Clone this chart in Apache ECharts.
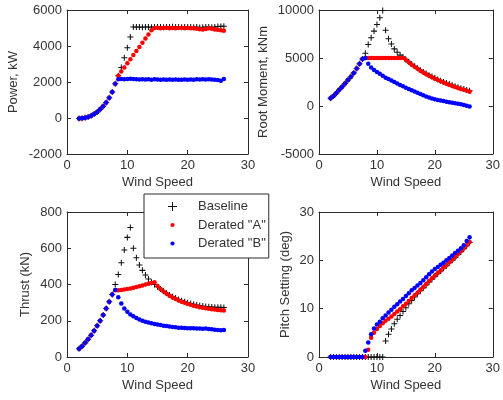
<!DOCTYPE html>
<html>
<head>
<meta charset="utf-8">
<script src="https://cdn.jsdelivr.net/npm/echarts@6/dist/echarts.min.js"></script>
<style>
  html, body { margin: 0; padding: 0; background: #fff; }
  #chart { width: 503px; height: 400px; }
</style>
</head>
<body>
<div id="chart"></div>
<script>
// Wind speed samples (m/s)
const windSpeed = [2,2.5,3,3.5,4,4.5,5,5.5,6,6.5,7,7.5,8,8.5,9,9.5,10,10.5,11,11.5,12,12.5,13,13.5,14,14.5,15,15.5,16,16.5,17,17.5,18,18.5,19,19.5,20,20.5,21,21.5,22,22.5,23,23.5,24,24.5,25,25.5,26];

// Power, kW
const powerBaseline = [-30,-10,20,60,130,220,330,480,650,860,1120,1450,1900,2350,2800,3350,3900,4500,5050,5060,5050,5040,5060,5050,5040,5050,5060,5050,5040,5060,5050,5070,5060,5050,5040,5050,5060,5050,5040,5050,5030,5040,5060,5050,5040,5060,5080,5090,5100];
const powerA = [-30,-10,20,60,130,220,330,480,650,860,1120,1450,1900,2350,2580,2810,3040,3270,3500,3720,3950,4180,4410,4640,4870,5000,5010,4990,5000,5010,4990,5000,4980,5000,5010,4990,5000,4980,4990,4960,4930,4910,4950,4980,4960,4920,4900,4870,4850];
const powerB = [-30,-10,20,60,130,220,330,480,650,860,1120,1450,1900,2150,2170,2150,2160,2180,2160,2150,2140,2150,2140,2150,2130,2150,2140,2130,2140,2120,2140,2130,2140,2120,2130,2140,2130,2140,2130,2150,2140,2150,2140,2150,2140,2130,2110,2070,2170];

// Blade root moment, kNm
const rootBaseline = [800,1050,1350,1700,2000,2350,2700,3050,3450,3900,4400,4900,5500,6400,7100,7800,8500,9200,9950,7900,7000,6450,5950,5600,5300,5100,4850,4600,4350,4130,3920,3730,3550,3380,3210,3060,2910,2770,2640,2510,2390,2280,2170,2060,1960,1860,1760,1670,1580];
const rootA = [800,1050,1350,1700,2000,2350,2700,3050,3450,3900,4400,4900,5000,5000,5000,5000,5000,5000,5000,5000,5000,5000,5000,5000,5000,5000,4800,4550,4300,4080,3870,3680,3500,3320,3150,3000,2850,2700,2570,2440,2320,2200,2090,1980,1880,1780,1680,1580,1480];
const rootB = [800,1050,1350,1700,2000,2350,2700,3050,3450,3900,4400,4900,5000,4400,4000,3750,3550,3350,3150,2950,2800,2650,2500,2350,2200,2050,1900,1780,1650,1520,1380,1250,1120,1000,880,780,700,630,570,510,450,400,350,290,230,170,100,30,-40];

// Rotor thrust, kN
const thrustBaseline = [45,60,78,98,120,145,172,200,232,268,305,345,400,455,520,590,660,715,600,548,508,478,452,430,412,400,388,375,363,352,342,333,325,317,311,305,299,295,291,287,284,281,279,277,276,275,274,274,273];
const thrustA = [45,60,78,98,120,145,172,200,232,268,305,345,368,368,370,372,375,378,382,386,390,395,400,404,408,412,392,375,361,349,338,328,320,312,305,299,293,288,283,279,275,272,269,266,264,262,260,258,256];
const thrustB = [45,60,78,98,120,145,172,200,232,268,305,345,370,330,295,268,250,235,225,215,207,200,195,190,186,182,179,176,173,171,168,166,164,162,161,160,159,158,158,157,157,156,157,155,153,151,149,148,149];

// Blade pitch setting, deg
const pitchBaseline = [0,0,0,0,0,0,0,0,0,0,0,0,0,0,0,0,0,0,0,3.3,4.7,5.8,6.9,7.8,8.6,9.4,10.2,11.0,11.7,12.4,13.1,13.7,14.3,14.9,15.5,16.1,16.7,17.3,17.8,18.4,18.9,19.5,20.0,20.6,21.2,21.8,22.4,23.0,23.7];
const pitchA = [0,0,0,0,0,0,0,0,0,0,0,0,0,1.5,4.0,5.0,5.8,6.4,7.0,7.5,7.9,8.4,8.9,9.4,9.9,10.5,11.0,11.6,12.2,12.8,13.3,13.9,14.5,15.1,15.7,16.3,16.8,17.4,17.9,18.5,19.0,19.6,20.1,20.7,21.3,21.9,22.5,23.1,23.8];
const pitchB = [0,0,0,0,0,0,0,0,0,0,0,0,1.3,3.0,4.7,5.9,6.7,7.3,8.0,8.6,9.2,9.8,10.4,10.9,11.5,12.0,12.6,13.2,13.8,14.3,14.8,15.3,15.9,16.5,17.1,17.7,18.2,18.6,19.1,19.5,20.0,20.5,21.0,21.5,22.0,22.5,23.1,24.0,24.8];

const seriesNames = ['Baseline', 'Derated "A"', 'Derated "B"'];
const seriesColors = ['#111111', '#ff0000', '#0000ff'];

const panels = [
  { yName: 'Power, kW',           yMin: -2000, yMax: 6000,  yStep: 2000, nameGap: 47, data: [powerBaseline, powerA, powerB] },
  { yName: 'Root Moment, kNm',    yMin: -5000, yMax: 10000, yStep: 5000, nameGap: 49, data: [rootBaseline, rootA, rootB] },
  { yName: 'Thrust (kN)',         yMin: 0,     yMax: 800,   yStep: 200,  nameGap: 35, data: [thrustBaseline, thrustA, thrustB] },
  { yName: 'Pitch Setting (deg)', yMin: 0,     yMax: 30,    yStep: 10,   nameGap: 27, data: [pitchBaseline, pitchA, pitchB] }
];

const grids = [
  { left: 67,  top: 10,  width: 181, height: 144 },
  { left: 319, top: 10,  width: 179, height: 144 },
  { left: 67,  top: 212, width: 181, height: 145 },
  { left: 319, top: 212, width: 178, height: 145 }
];

const FONT = 'Liberation Sans, Arial, Helvetica, sans-serif';
const INK = '#2b2b2b';
const TEXT = '#333333';

const plusMarker = 'path://M2.9,0H4.1V2.9H7V4.1H4.1V7H2.9V4.1H0V2.9H2.9Z';
const plusIcon = 'path://M4,0H5V4H9V5H5V9H4V5H0V4H4Z';
const dotIcon = 'path://M0,0L0.01,0L0,0.01Z M9,9L8.99,9L9,8.99Z M2.4,4.5A2.1,2.1 0 1 1 6.6,4.5A2.1,2.1 0 1 1 2.4,4.5Z';

const pts = ys => windSpeed.map((w, i) => [w, ys[i]]);
const plain = v => String(v);

const xAxes = [], yAxes = [], series = [];
panels.forEach((p, g) => {
  const line = { show: true, onZero: false, lineStyle: { color: INK, width: 1 } };
  const tick = { show: true, inside: true, length: 4, lineStyle: { color: INK } };
  xAxes.push({
    type: 'value', gridIndex: g, position: 'bottom', min: 0, max: 30, interval: 10,
    axisLine: line, axisTick: tick, splitLine: { show: false },
    axisLabel: { margin: 5, fontSize: 13, fontFamily: FONT, color: TEXT, formatter: plain },
    name: 'Wind Speed', nameLocation: 'middle', nameGap: 22,
    nameTextStyle: { fontSize: 13, fontFamily: FONT, color: TEXT }
  });
  xAxes.push({
    type: 'value', gridIndex: g, position: 'top', min: 0, max: 30, interval: 10,
    axisLine: line, axisTick: tick, splitLine: { show: false }, axisLabel: { show: false }
  });
  yAxes.push({
    type: 'value', gridIndex: g, position: 'left', min: p.yMin, max: p.yMax, interval: p.yStep,
    axisLine: line, axisTick: tick, splitLine: { show: false },
    axisLabel: { margin: 5, fontSize: 13, fontFamily: FONT, color: TEXT, formatter: plain },
    name: p.yName, nameLocation: 'middle', nameGap: p.nameGap, nameRotate: 90,
    nameTextStyle: { fontSize: 13, fontFamily: FONT, color: TEXT }
  });
  yAxes.push({
    type: 'value', gridIndex: g, position: 'right', min: p.yMin, max: p.yMax, interval: p.yStep,
    axisLine: line, axisTick: tick, splitLine: { show: false }, axisLabel: { show: false }
  });
  p.data.forEach((ys, k) => {
    series.push({
      type: 'scatter', name: seriesNames[k],
      xAxisIndex: g * 2, yAxisIndex: g * 2,
      data: pts(ys),
      symbol: k === 0 ? plusMarker : 'circle',
      symbolSize: k === 0 ? 6 : 4.5,
      itemStyle: { color: seriesColors[k], opacity: 1 },
      z: 2 + k,
      silent: true,
      animation: false
    });
  });
});

const chart = echarts.init(document.getElementById('chart'), null, { renderer: 'canvas' });
chart.setOption({
  backgroundColor: '#ffffff',
  animation: false,
  grid: grids,
  xAxis: xAxes,
  yAxis: yAxes,
  legend: {
    orient: 'vertical', left: 144, top: 194,
    padding: [6, 3, 8, 24],
    itemWidth: 9, itemHeight: 9, itemGap: 5.5,
    backgroundColor: '#ffffff', borderColor: INK, borderWidth: 1,
    selectedMode: false,
    itemStyle: { borderWidth: 0 },
    textStyle: { fontSize: 13, fontFamily: FONT, color: TEXT, padding: [0, 0, 0, 16] },
    data: [
      { name: seriesNames[0], icon: plusIcon },
      { name: seriesNames[1], icon: dotIcon },
      { name: seriesNames[2], icon: dotIcon }
    ]
  },
  series: series
});
</script>
</body>
</html>
